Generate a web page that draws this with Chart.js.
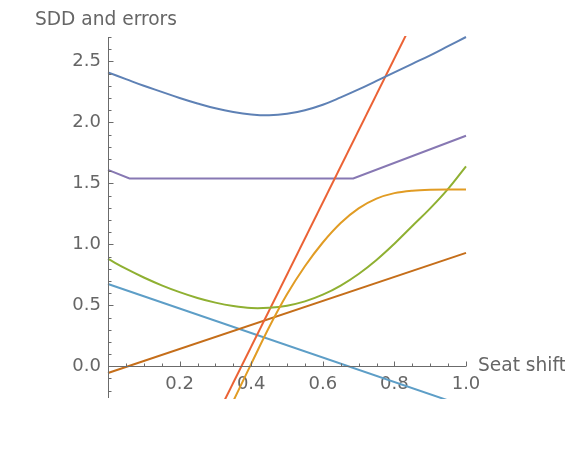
<!DOCTYPE html>
<html>
<head>
<meta charset="utf-8">
<script src="https://cdn.jsdelivr.net/npm/chart.js@4.4.1/dist/chart.umd.min.js"></script>
<style>
  html, body { margin: 0; padding: 0; background: #fff; }
</style>
</head>
<body>
<canvas id="chart" width="565" height="450"></canvas>
<script>
// seat shift grid used by the smooth curves
const shift = [0, 0.05, 0.1, 0.15, 0.2, 0.25, 0.3, 0.35, 0.4, 0.45, 0.5,
               0.55, 0.6, 0.65, 0.7, 0.75, 0.8, 0.85, 0.9, 0.95, 1.0];

// SDD (blue)
const sdd = [2.41, 2.355, 2.30, 2.25, 2.20, 2.155, 2.115, 2.085, 2.065, 2.058, 2.07,
             2.10, 2.145, 2.205, 2.27, 2.34, 2.41, 2.48, 2.55, 2.625, 2.70];
// green parabola
const errGreen = [0.88, 0.80, 0.728, 0.664, 0.608, 0.56, 0.522, 0.494, 0.478, 0.48, 0.497,
                  0.532, 0.587, 0.662, 0.757, 0.872, 1.005, 1.15, 1.295, 1.455, 1.64];

// yellow S-curve
const yellowX = [0.35, 0.4, 0.45, 0.5, 0.55, 0.6, 0.65, 0.7, 0.75, 0.8, 0.85, 0.9, 0.95, 1.0];
const yellowY = [-0.285, 0.02, 0.32, 0.59, 0.82, 1.015, 1.175, 1.295, 1.375, 1.42, 1.44, 1.448, 1.45, 1.45];

// purple piecewise line
const purpleX = [0, 0.06, 0.685, 1.0];
const purpleY = [1.61, 1.54, 1.54, 1.89];

// straight lines
const redX = [0.3, 0.85];
const redY = [-0.43, 2.82];
const darkOrangeX = [0, 1];
const darkOrangeY = [-0.055, 0.93];
const lightBlueX = [0, 1];
const lightBlueY = [0.675, -0.33];

// axes
const xMin = 0, xMax = 1, yMin = -0.26, yMax = 2.70;
const xLabelTicks = [0.2, 0.4, 0.6, 0.8, 1.0];
const yLabelTicks = [0.0, 0.5, 1.0, 1.5, 2.0, 2.5];

const axisColor = '#6b6b6b';
const textColor = '#666666';
const fontFamily = '"DejaVu Sans", sans-serif';

const pts = (xs, ys) => xs.map((x, i) => ({ x: x, y: ys[i] }));
const near = (v, list) => list.some(t => Math.abs(t - v) < 1e-6);

// mode: 'spline', 'monotone' or 'straight'
function line(label, data, color, mode) {
  return {
    label: label,
    data: data,
    borderColor: color,
    backgroundColor: color,
    borderWidth: 2,
    pointRadius: 0,
    fill: false,
    tension: mode === 'spline' ? 0.4 : 0,
    cubicInterpolationMode: mode === 'monotone' ? 'monotone' : 'default',
    clip: 1
  };
}

// Mathematica-style axes: crossing at origin, ticks pointing inward
const mmaAxes = {
  id: 'mmaAxes',
  afterDatasetsDraw(chart) {
    const { ctx, chartArea, scales: { x, y } } = chart;
    const x0 = Math.round(x.getPixelForValue(0)) + 0.5;
    const y0 = Math.round(y.getPixelForValue(0)) + 0.5;
    const x1 = x.getPixelForValue(xMax);
    ctx.save();
    ctx.strokeStyle = axisColor;
    ctx.lineWidth = 1;
    ctx.beginPath();
    ctx.moveTo(x0, y0);
    ctx.lineTo(x1, y0);
    ctx.moveTo(x0, chartArea.top);
    ctx.lineTo(x0, chartArea.bottom);
    x.ticks.forEach(t => {
      if (t.value <= 0) return;
      const px = Math.round(x.getPixelForValue(t.value)) + 0.5;
      const len = near(t.value, xLabelTicks) ? 5 : 3;
      ctx.moveTo(px, y0);
      ctx.lineTo(px, y0 - len);
    });
    y.ticks.forEach(t => {
      const py = Math.round(y.getPixelForValue(t.value)) + 0.5;
      const len = near(t.value, yLabelTicks) ? 5 : 3;
      ctx.moveTo(x0, py);
      ctx.lineTo(x0 + len, py);
    });
    ctx.stroke();

    ctx.fillStyle = textColor;
    ctx.font = '18.6px ' + fontFamily;
    ctx.textAlign = 'left';
    ctx.textBaseline = 'alphabetic';
    ctx.fillText('SDD and errors', 35, 25);
    ctx.textBaseline = 'middle';
    ctx.fillText('Seat shift', 478, y0);
    ctx.restore();
  }
};

Chart.defaults.font.family = fontFamily;
Chart.defaults.font.size = 18;
Chart.defaults.color = textColor;

new Chart(document.getElementById('chart').getContext('2d'), {
  type: 'line',
  data: {
    datasets: [
      line('SDD', pts(shift, sdd), '#5E81B5', 'spline'),
      line('yellow', pts(yellowX, yellowY), '#E19C24', 'monotone'),
      line('green', pts(shift, errGreen), '#8FB032', 'spline'),
      line('red', pts(redX, redY), '#EB6235', 'straight'),
      line('purple', pts(purpleX, purpleY), '#8778B3', 'straight'),
      line('dark orange', pts(darkOrangeX, darkOrangeY), '#C56E1A', 'straight'),
      line('light blue', pts(lightBlueX, lightBlueY), '#5D9EC7', 'straight')
    ]
  },
  options: {
    responsive: false,
    animation: false,
    layout: { padding: { top: 37, right: 99, bottom: 52, left: 0 } },
    plugins: {
      legend: { display: false },
      tooltip: { enabled: false }
    },
    scales: {
      x: {
        type: 'linear',
        min: xMin,
        max: xMax,
        position: { y: 0 },
        grid: { display: false, drawTicks: false },
        border: { display: false },
        ticks: {
          stepSize: 0.05,
          includeBounds: false,
          autoSkip: false,
          maxRotation: 0,
          padding: 7,
          callback: v => near(v, xLabelTicks) ? v.toFixed(1) : ''
        }
      },
      y: {
        type: 'linear',
        min: yMin,
        max: yMax,
        position: 'left',
        grid: { display: false, drawTicks: false },
        border: { display: false },
        afterFit: scale => { scale.width = 108; },
        ticks: {
          stepSize: 0.1,
          includeBounds: false,
          autoSkip: false,
          padding: 7,
          callback: v => near(v, yLabelTicks) ? v.toFixed(1) : ''
        }
      }
    }
  },
  plugins: [mmaAxes]
});
</script>
</body>
</html>
